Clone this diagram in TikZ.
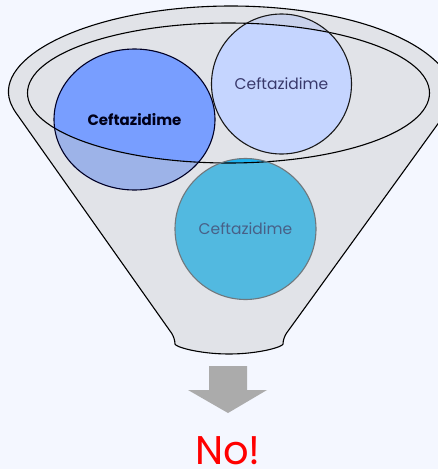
\documentclass[tikz,border=0pt]{standalone}
\usepackage{fontspec}
\setmainfont{Poppins}
\usetikzlibrary{shapes}
\pgfdeclarelayer{background}
\pgfsetlayers{background,main}
\definecolor{bgcol}{HTML}{F4F7FF}
\definecolor{funnelgray}{HTML}{E1E3E8}
\definecolor{onein}{HTML}{789EFF}
\definecolor{oneout}{HTML}{9DB3E8}
\definecolor{twoin}{HTML}{C5D5FF}
\definecolor{twoout}{HTML}{C9D2EC}
\definecolor{threein}{HTML}{1EB2EE}
\definecolor{threeout}{HTML}{52B9E0}
\definecolor{arrowgray}{HTML}{ABABAB}
\tikzstyle{drug} = [circle, draw, inner sep=0pt, minimum size=140pt,
    line width=1.1pt, font=\fontsize{15.5}{17}\selectfont]
\tikzstyle{drugA} = [drug, ellipse, minimum width=161pt, minimum height=141pt,
    draw=black!85!blue, text=black!90!blue, font=\bfseries\fontsize{15}{17}\selectfont]
\tikzstyle{drugB} = [drug, draw=black!90, text=black!65!blue!55!gray]
\tikzstyle{drugC} = [drug, minimum size=141pt, draw=black!70!cyan!40!gray,
    text=black!60!cyan!70!blue]
\tikzstyle{funnel} = [fill=funnelgray, draw=black, line width=1.1pt, rounded corners=6pt]
\tikzstyle{mouth} = [draw=black, line width=1.1pt]

\begin{document}
\begin{tikzpicture}[x=1pt,y=-1pt]
    \useasboundingbox (0,0) rectangle (438,469);
    \clip (0,0) rectangle (438,469);

    \node (c1) at (134.5,119.5) [drugA] {Ceftazidime};
    \node (c2) at (281.5,84) [drugB] {Ceftazidime};
    \node (c3) at (245.5,229) [drugC] {Ceftazidime};

    \begin{pgfonlayer}{background}
        \fill[bgcol] (0,0) rectangle (438,469);
        \path[funnel] (12.14,107.39) arc[start angle=172, end angle=368, x radius=221, y radius=89]
            -- (283,338) arc[start angle=0, end angle=180, x radius=54, y radius=16] -- cycle;

        \fill[oneout] (c1.center) ellipse[x radius=80.5, y radius=70.5];
        \fill[twoout] (c2.center) circle[radius=70];
        \fill[threeout] (c3.center) circle[radius=70.5];
        \begin{scope}
            \clip (228.5,93) ellipse[x radius=201, y radius=70];
            \fill[onein] (c1.center) ellipse[x radius=80.5, y radius=70.5];
            \fill[twoin] (c2.center) circle[radius=70];
            \fill[threein] (c3.center) circle[radius=70.5];
        \end{scope}
        \path[mouth] (228.5,93) ellipse[x radius=201, y radius=70];
    \end{pgfonlayer}

    %%% arrow
    \fill[arrowgray] (209,366) -- (247,366) -- (247,390) -- (267,390) -- (228,413)
        -- (188,390) -- (209,390) -- cycle;
    \node (no) at (228,464) [anchor=base, inner sep=0pt, text=red,
        font=\fontsize{40}{44}\selectfont] {No!};

\end{tikzpicture}
\end{document}
